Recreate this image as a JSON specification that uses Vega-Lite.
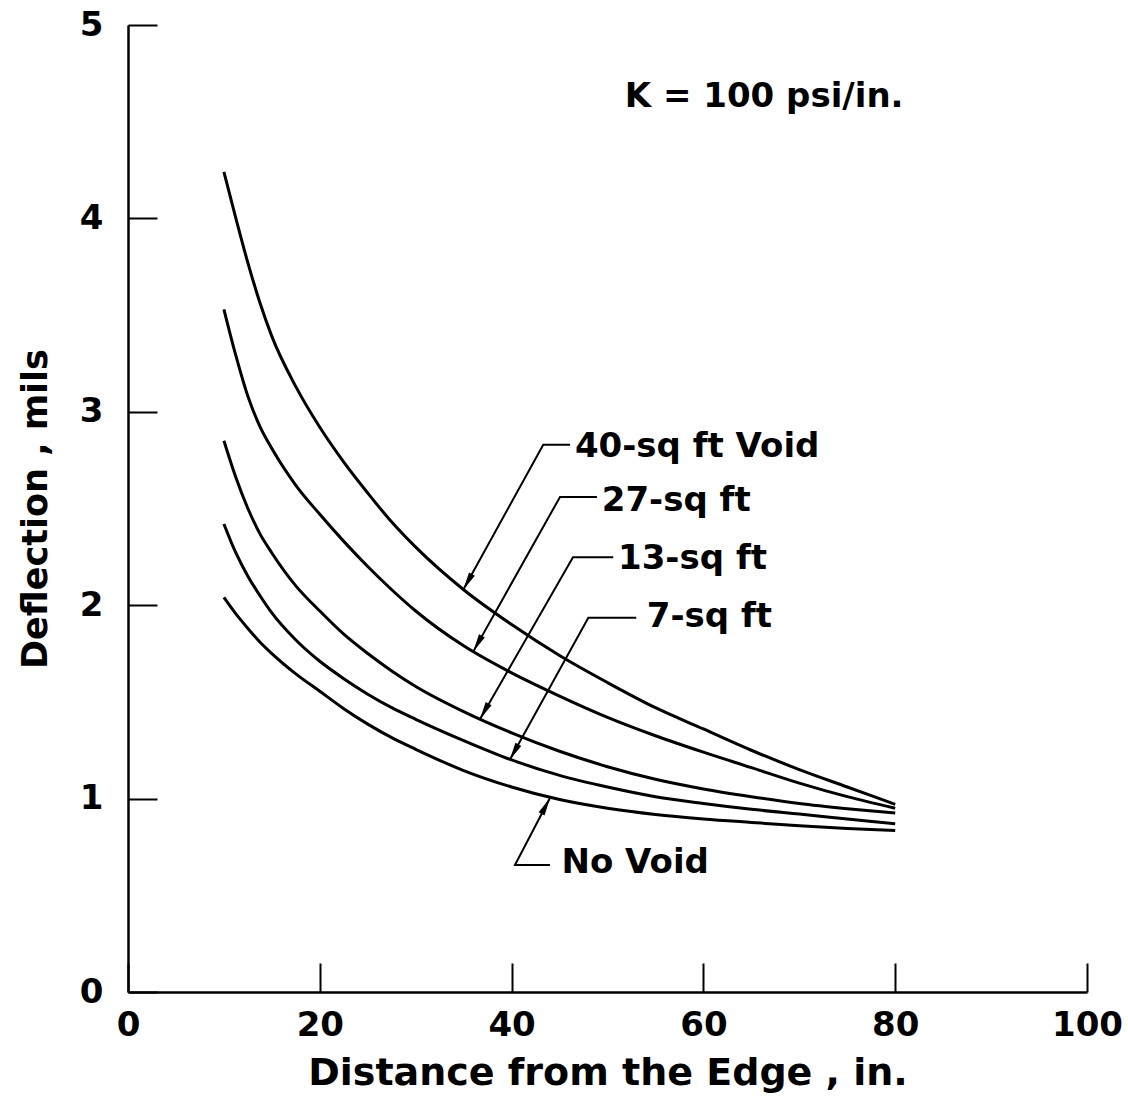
{
  "$schema": "https://vega.github.io/schema/vega-lite/v6.json",
  "width": 959,
  "height": 967,
  "autosize": {"type": "none"},
  "padding": {"left": 128, "top": 25, "right": 41, "bottom": 111},
  "background": "white",
  "config": {"view": {"stroke": null}, "font": "DejaVu Sans"},
  "datasets": {
    "curves": [
      {"series": "40-sq ft Void", "x": 10, "y": 4.24},
      {"series": "40-sq ft Void", "x": 11.25, "y": 4.0},
      {"series": "40-sq ft Void", "x": 12.5, "y": 3.77},
      {"series": "40-sq ft Void", "x": 13.75, "y": 3.565},
      {"series": "40-sq ft Void", "x": 15, "y": 3.39},
      {"series": "40-sq ft Void", "x": 17.5, "y": 3.13},
      {"series": "40-sq ft Void", "x": 20, "y": 2.92},
      {"series": "40-sq ft Void", "x": 22.5, "y": 2.74},
      {"series": "40-sq ft Void", "x": 25, "y": 2.58},
      {"series": "40-sq ft Void", "x": 27.5, "y": 2.43},
      {"series": "40-sq ft Void", "x": 30, "y": 2.3},
      {"series": "40-sq ft Void", "x": 35, "y": 2.08},
      {"series": "40-sq ft Void", "x": 40, "y": 1.9},
      {"series": "40-sq ft Void", "x": 45, "y": 1.74},
      {"series": "40-sq ft Void", "x": 50, "y": 1.6},
      {"series": "40-sq ft Void", "x": 55, "y": 1.47},
      {"series": "40-sq ft Void", "x": 60, "y": 1.36},
      {"series": "40-sq ft Void", "x": 65, "y": 1.25},
      {"series": "40-sq ft Void", "x": 70, "y": 1.15},
      {"series": "40-sq ft Void", "x": 75, "y": 1.06},
      {"series": "40-sq ft Void", "x": 80, "y": 0.97},
      {"series": "27-sq ft", "x": 10, "y": 3.53},
      {"series": "27-sq ft", "x": 11.25, "y": 3.29},
      {"series": "27-sq ft", "x": 12.5, "y": 3.08},
      {"series": "27-sq ft", "x": 13.75, "y": 2.925},
      {"series": "27-sq ft", "x": 15, "y": 2.81},
      {"series": "27-sq ft", "x": 17.5, "y": 2.62},
      {"series": "27-sq ft", "x": 20, "y": 2.47},
      {"series": "27-sq ft", "x": 22.5, "y": 2.33},
      {"series": "27-sq ft", "x": 25, "y": 2.2},
      {"series": "27-sq ft", "x": 27.5, "y": 2.08},
      {"series": "27-sq ft", "x": 30, "y": 1.97},
      {"series": "27-sq ft", "x": 35, "y": 1.79},
      {"series": "27-sq ft", "x": 40, "y": 1.65},
      {"series": "27-sq ft", "x": 45, "y": 1.53},
      {"series": "27-sq ft", "x": 50, "y": 1.42},
      {"series": "27-sq ft", "x": 55, "y": 1.325},
      {"series": "27-sq ft", "x": 60, "y": 1.24},
      {"series": "27-sq ft", "x": 65, "y": 1.16},
      {"series": "27-sq ft", "x": 70, "y": 1.08},
      {"series": "27-sq ft", "x": 75, "y": 1.01},
      {"series": "27-sq ft", "x": 80, "y": 0.95},
      {"series": "13-sq ft", "x": 10, "y": 2.85},
      {"series": "13-sq ft", "x": 11.25, "y": 2.66},
      {"series": "13-sq ft", "x": 12.5, "y": 2.5},
      {"series": "13-sq ft", "x": 13.75, "y": 2.37},
      {"series": "13-sq ft", "x": 15, "y": 2.27},
      {"series": "13-sq ft", "x": 17.5, "y": 2.1},
      {"series": "13-sq ft", "x": 20, "y": 1.97},
      {"series": "13-sq ft", "x": 22.5, "y": 1.85},
      {"series": "13-sq ft", "x": 25, "y": 1.75},
      {"series": "13-sq ft", "x": 27.5, "y": 1.66},
      {"series": "13-sq ft", "x": 30, "y": 1.58},
      {"series": "13-sq ft", "x": 35, "y": 1.45},
      {"series": "13-sq ft", "x": 40, "y": 1.34},
      {"series": "13-sq ft", "x": 45, "y": 1.245},
      {"series": "13-sq ft", "x": 50, "y": 1.165},
      {"series": "13-sq ft", "x": 55, "y": 1.1},
      {"series": "13-sq ft", "x": 60, "y": 1.05},
      {"series": "13-sq ft", "x": 65, "y": 1.01},
      {"series": "13-sq ft", "x": 70, "y": 0.975},
      {"series": "13-sq ft", "x": 75, "y": 0.948},
      {"series": "13-sq ft", "x": 80, "y": 0.925},
      {"series": "7-sq ft", "x": 10, "y": 2.42},
      {"series": "7-sq ft", "x": 11.25, "y": 2.27},
      {"series": "7-sq ft", "x": 12.5, "y": 2.15},
      {"series": "7-sq ft", "x": 13.75, "y": 2.05},
      {"series": "7-sq ft", "x": 15, "y": 1.96},
      {"series": "7-sq ft", "x": 17.5, "y": 1.82},
      {"series": "7-sq ft", "x": 20, "y": 1.71},
      {"series": "7-sq ft", "x": 22.5, "y": 1.62},
      {"series": "7-sq ft", "x": 25, "y": 1.54},
      {"series": "7-sq ft", "x": 27.5, "y": 1.47},
      {"series": "7-sq ft", "x": 30, "y": 1.41},
      {"series": "7-sq ft", "x": 35, "y": 1.3},
      {"series": "7-sq ft", "x": 40, "y": 1.2},
      {"series": "7-sq ft", "x": 45, "y": 1.12},
      {"series": "7-sq ft", "x": 50, "y": 1.06},
      {"series": "7-sq ft", "x": 55, "y": 1.01},
      {"series": "7-sq ft", "x": 60, "y": 0.975},
      {"series": "7-sq ft", "x": 65, "y": 0.945},
      {"series": "7-sq ft", "x": 70, "y": 0.92},
      {"series": "7-sq ft", "x": 75, "y": 0.895},
      {"series": "7-sq ft", "x": 80, "y": 0.87},
      {"series": "No Void", "x": 10, "y": 2.04},
      {"series": "No Void", "x": 11.25, "y": 1.955},
      {"series": "No Void", "x": 12.5, "y": 1.88},
      {"series": "No Void", "x": 13.75, "y": 1.81},
      {"series": "No Void", "x": 15, "y": 1.75},
      {"series": "No Void", "x": 17.5, "y": 1.645},
      {"series": "No Void", "x": 20, "y": 1.555},
      {"series": "No Void", "x": 22.5, "y": 1.465},
      {"series": "No Void", "x": 25, "y": 1.385},
      {"series": "No Void", "x": 27.5, "y": 1.315},
      {"series": "No Void", "x": 30, "y": 1.255},
      {"series": "No Void", "x": 35, "y": 1.145},
      {"series": "No Void", "x": 40, "y": 1.06},
      {"series": "No Void", "x": 45, "y": 0.995},
      {"series": "No Void", "x": 50, "y": 0.95},
      {"series": "No Void", "x": 55, "y": 0.918},
      {"series": "No Void", "x": 60, "y": 0.895},
      {"series": "No Void", "x": 65, "y": 0.877},
      {"series": "No Void", "x": 70, "y": 0.86},
      {"series": "No Void", "x": 75, "y": 0.846},
      {"series": "No Void", "x": 80, "y": 0.835}
    ],
    "leaders": [
      {"id": "40", "o": 1, "x": 46.1, "y": 2.83},
      {"id": "40", "o": 2, "x": 43.3, "y": 2.83},
      {"id": "40", "o": 3, "x": 34.96, "y": 2.08},
      {"id": "27", "o": 1, "x": 48.9, "y": 2.56},
      {"id": "27", "o": 2, "x": 45.05, "y": 2.56},
      {"id": "27", "o": 3, "x": 36.0, "y": 1.76},
      {"id": "13", "o": 1, "x": 50.6, "y": 2.248},
      {"id": "13", "o": 2, "x": 46.4, "y": 2.248},
      {"id": "13", "o": 3, "x": 36.7, "y": 1.41},
      {"id": "7", "o": 1, "x": 53.0, "y": 1.935},
      {"id": "7", "o": 2, "x": 48.0, "y": 1.935},
      {"id": "7", "o": 3, "x": 39.8, "y": 1.2},
      {"id": "0", "o": 1, "x": 44.0, "y": 0.657},
      {"id": "0", "o": 2, "x": 40.35, "y": 0.657},
      {"id": "0", "o": 3, "x": 44.0, "y": 1.003}
    ],
    "labels": [
      {"label": "K = 100 psi/in.", "x": 51.8, "y": 4.63},
      {"label": "40-sq ft Void", "x": 46.6, "y": 2.82},
      {"label": "27-sq ft", "x": 49.4, "y": 2.54},
      {"label": "13-sq ft", "x": 51.1, "y": 2.24},
      {"label": "7-sq ft", "x": 54.1, "y": 1.94},
      {"label": "No Void", "x": 45.2, "y": 0.665}
    ]
  },
  "encoding": {
    "x": {
      "field": "x",
      "type": "quantitative",
      "scale": {"domain": [0, 100], "nice": false, "zero": false},
      "axis": {
        "title": "Distance from the Edge , in.",
        "values": [0, 20, 40, 60, 80, 100],
        "grid": false,
        "domainColor": "black",
        "domainWidth": 2.5,
        "tickColor": "black",
        "tickWidth": 2,
        "tickSize": -29,
        "labelPadding": 45,
        "labelFontSize": 34,
        "labelFontWeight": "bold",
        "labelColor": "black",
        "labelFlush": false,
        "titleFontSize": 38,
        "titleFontWeight": "bold",
        "titleColor": "black",
        "titlePadding": 12
      }
    },
    "y": {
      "field": "y",
      "type": "quantitative",
      "scale": {"domain": [0, 5], "nice": false},
      "axis": {
        "title": "Deflection , mils",
        "values": [0, 1, 2, 3, 4, 5],
        "grid": false,
        "domainColor": "black",
        "domainWidth": 2.5,
        "tickColor": "black",
        "tickWidth": 2,
        "tickSize": -29,
        "labelPadding": 54,
        "labelFontSize": 34,
        "labelFontWeight": "bold",
        "labelColor": "black",
        "labelFlush": false,
        "titleFontSize": 35,
        "titleFontWeight": "bold",
        "titleColor": "black",
        "titlePadding": 26
      }
    }
  },
  "layer": [
    {
      "data": {"name": "curves"},
      "mark": {"type": "line", "color": "black", "strokeWidth": 3, "interpolate": "monotone"},
      "encoding": {"detail": {"field": "series"}}
    },
    {
      "data": {"name": "leaders"},
      "mark": {"type": "line", "color": "black", "strokeWidth": 2},
      "encoding": {"detail": {"field": "id"}, "order": {"field": "o"}}
    },
    {
      "data": {"name": "leaders"},
      "transform": [{"filter": "datum.o == 3 && datum.id != '0'"}],
      "mark": {"type": "point", "shape": "M0,0L0.3,1.6L-0.3,1.6Z", "filled": true, "color": "black", "opacity": 1, "size": 500, "angle": 209},
      "encoding": {}
    },
    {
      "data": {"name": "leaders"},
      "transform": [{"filter": "datum.o == 3 && datum.id == '0'"}],
      "mark": {"type": "point", "shape": "M0,0L0.3,1.6L-0.3,1.6Z", "filled": true, "color": "black", "opacity": 1, "size": 500, "angle": 28},
      "encoding": {}
    },
    {
      "data": {"name": "labels"},
      "mark": {"type": "text", "align": "left", "baseline": "middle", "fontSize": 34, "fontWeight": "bold", "color": "black"},
      "encoding": {"text": {"field": "label"}}
    }
  ]
}
